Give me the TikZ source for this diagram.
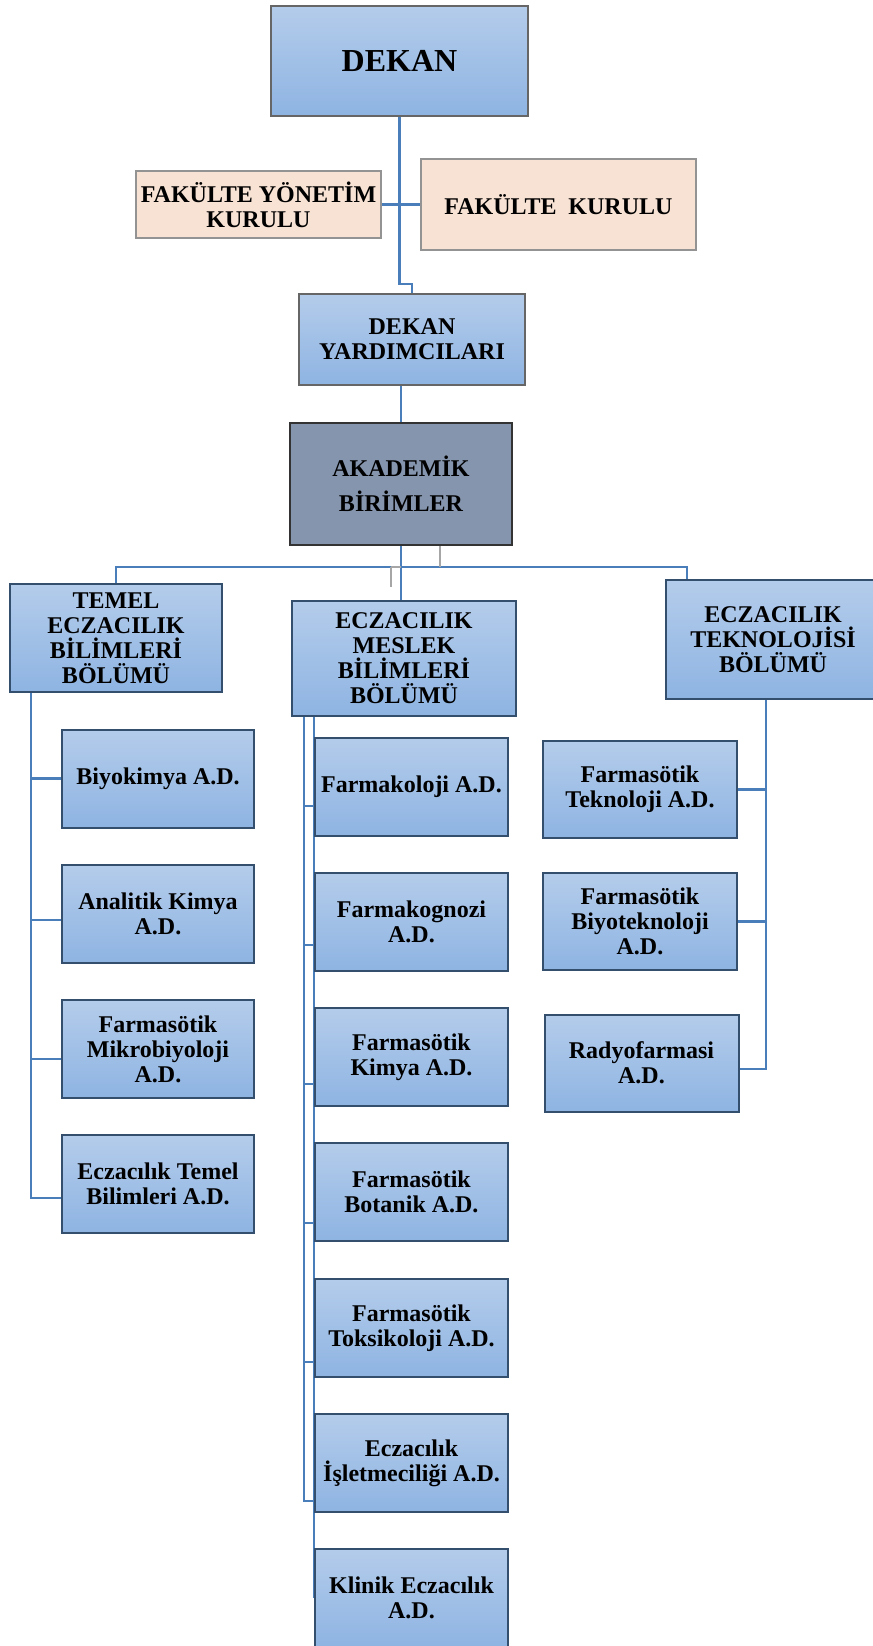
\documentclass[tikz,border=0pt]{standalone}
\usepackage{fontspec}
\setmainfont{Liberation Serif}
\usetikzlibrary{calc,positioning,backgrounds}
\definecolor{boxtop}{RGB}{180,204,235}
\definecolor{boxbot}{RGB}{142,180,226}
\definecolor{boxline}{RGB}{52,78,110}
\definecolor{peach}{RGB}{248,226,212}
\definecolor{slate}{RGB}{133,149,174}
\definecolor{linkblue}{RGB}{74,126,187}
\tikzset{
    plainbox/.style={
        rectangle, draw=boxline, line width=1pt,
        inner sep=0pt, align=center,
        font=\fontsize{12}{12.5}\selectfont\bfseries
    },
    unit/.style={plainbox, top color=boxtop, bottom color=boxbot},
    board/.style={plainbox, draw=gray!85, fill=peach},
    topunit/.style={unit, draw=gray!80!black},
    leftad/.style={unit, minimum width=96pt, minimum height=49pt},
    midad/.style={unit, minimum width=96.5pt, minimum height=49pt},
    rightad/.style={unit, minimum width=97pt, minimum height=48.5pt},
    conn/.style={draw=linkblue, line width=1.4pt},
    stray/.style={draw=gray!70, line width=1pt}
}
\begin{document}
\begin{tikzpicture}[x=0.5pt,y=-0.5pt]
    \useasboundingbox (0,0) rectangle (873,1646);

    % yonetim
    \node[topunit, minimum width=128.5pt, minimum height=55pt,
          font=\fontsize{16}{18}\selectfont\bfseries] (dekan) at (399.5,61) {DEKAN};
    \node[board, minimum width=122.5pt, minimum height=33.5pt] (fyk) at (258.5,204.5) {FAKÜLTE YÖNETİM\\KURULU};
    \node[board, minimum width=137.5pt, minimum height=45.5pt] (fk) at (558.5,204.5) {FAKÜLTE\ \ KURULU};
    \node[topunit, minimum width=113pt, minimum height=45.5pt] (dy) at (412,339.5) {DEKAN\\YARDIMCILARI};
    \node[plainbox, draw=gray!40!black, fill=slate, minimum width=111pt, minimum height=61pt,
          font=\fontsize{12}{17.5}\selectfont\bfseries] (ab) at (401,484) {AKADEMİK\\BİRİMLER};

    % bolumler
    \node[unit, minimum width=106pt, minimum height=54pt] (temel) at (116,638) {TEMEL\\ECZACILIK\\BİLİMLERİ\\BÖLÜMÜ};
    \node[unit, minimum width=112pt, minimum height=57.5pt] (meslek) at (404,658.5) {ECZACILIK\\MESLEK\\BİLİMLERİ\\BÖLÜMÜ};
    \node[unit, minimum width=107pt, minimum height=59.5pt] (tekno) at (773,639.5) {ECZACILIK\\TEKNOLOJİSİ\\BÖLÜMÜ};

    % anabilim dallari
    \node[leftad] (bio) at (158,778.5) {Biyokimya A.D.};
    \node[leftad] (ana) at (158,914) {Analitik Kimya\\A.D.};
    \node[leftad] (mik) at (158,1049) {Farmasötik\\Mikrobiyoloji\\A.D.};
    \node[leftad] (etb) at (158,1184) {Eczacılık Temel\\Bilimleri A.D.};

    \node[midad] (fkol) at (411.5,786.5) {Farmakoloji A.D.};
    \node[midad] (fgn) at (411.5,921.5) {Farmakognozi\\A.D.};
    \node[midad] (fkim) at (411.5,1057) {Farmasötik\\Kimya A.D.};
    \node[midad] (fbot) at (411.5,1191.5) {Farmasötik\\Botanik A.D.};
    \node[midad] (ftok) at (411.5,1328) {Farmasötik\\Toksikoloji A.D.};
    \node[midad] (fisl) at (411.5,1463) {Eczacılık\\İşletmeciliği A.D.};
    \node[midad] (klin) at (411.5,1597.5) {Klinik Eczacılık\\A.D.};

    \node[rightad] (ftek) at (640,789.5) {Farmasötik\\Teknoloji A.D.};
    \node[rightad] (fbyt) at (640,921.5) {Farmasötik\\Biyoteknoloji\\A.D.};
    \node[rightad] (rad) at (641.5,1063) {Radyofarmasi\\A.D.};

    \begin{scope}[on background layer]
        % ust kisim
        \draw[conn] (dekan.south) -- ++(0,167) -| (dy.north);
        \draw[conn] (fyk.east) -- (fk.west);
        \draw[conn] (ab.north) -- (ab.north |- dy.south);
        \draw[conn] (ab.south) -- (ab.south |- meslek.north);
        \coordinate (bus) at ($(ab.south)+(0,21)$);
        \draw[conn] (temel.north) |- (bus) -| ([xshift=-43pt]tekno.north);
        \draw[stray] ([xshift=19.5pt]ab.south) -- ++(0,21);
        \draw[stray] ([xshift=-5pt]bus) -- (bus) ([xshift=-5pt]bus) -- ++(0,20);

        % sol sutun
        \coordinate (tl) at ($(temel.south west)+(22,0)$);
        \draw[conn] (tl) |- (bio.west);
        \draw[conn] (tl) |- ([yshift=-3pt]ana.west);
        \draw[conn] (tl) |- ([yshift=-5pt]mik.west);
        \draw[conn] (tl) |- ([yshift=-7pt]etb.west);

        % orta sutun
        \coordinate (ml) at ($(meslek.south west)+(13,0)$);
        \draw[conn] (ml) |- ([yshift=-9.75pt]fkol.west);
        \draw[conn] (ml) |- ([yshift=-11.75pt]fgn.west);
        \draw[conn] (ml) |- ([yshift=-13.5pt]fkim.west);
        \draw[conn] (ml) |- ([yshift=-15.75pt]fbot.west);
        \draw[conn] (ml) |- ([yshift=-17pt]ftok.west);
        \draw[conn] (ml) |- ([yshift=-19pt]fisl.west);
        \draw[conn] ($(meslek.south west)+(23,0)$) -- (klin.west);

        % sag sutun
        \coordinate (tr) at ($(tekno.south west)+(101,0)$);
        \draw[conn] (tr) |- (ftek.east);
        \draw[conn] (tr) |- (fbyt.east);
        \draw[conn] (tr) |- ([yshift=-3pt]rad.east);
    \end{scope}
\end{tikzpicture}
\end{document}
